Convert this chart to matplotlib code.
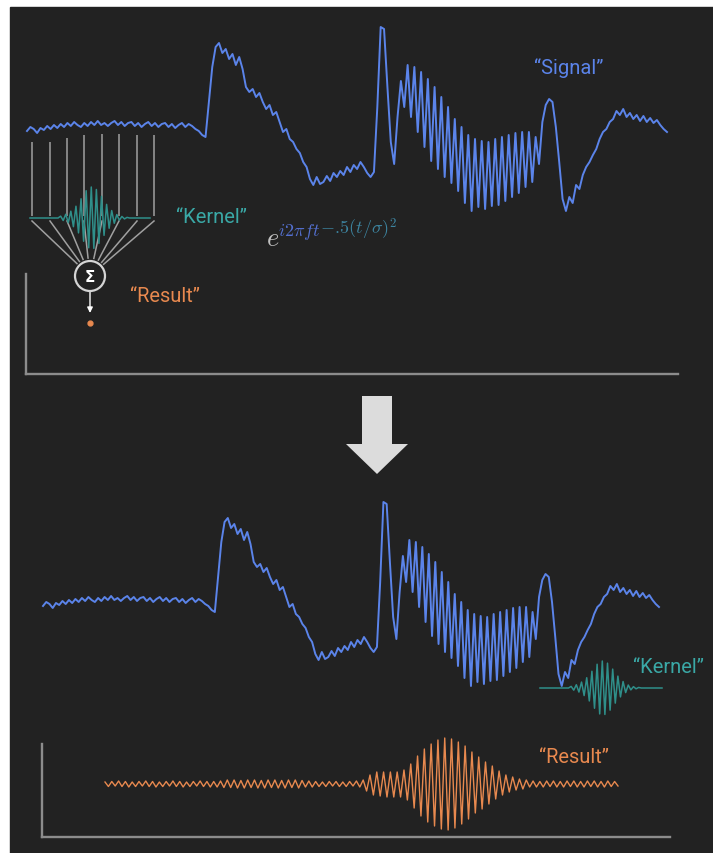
import numpy as np
import matplotlib.pyplot as plt
from matplotlib.patches import Rectangle, Circle

plt.rcParams['mathtext.fontset'] = 'cm'

# Signal amplitude (px above baseline), sampled evenly along the trace
signal = [-4, 0, -2, -6, -1, -3, 1, -2, 2, -1, 3,
          0, 4, 1, 5, 2, 0, 4, 1, 5, 2,
          6, 2, 4, 1, 4, 6, 2, 5, 1, 4,
          5, 1, 4, 0, 3, 5, 1, 4, 0, 3,
          4, 0, 3, -1, 2, 4, 0, 3, 1, -2,
          -4, -8, -10,
          25, 60, 80, 84, 74, 78, 68, 73, 62, 70, 58,
          40, 35, 38, 30, 34, 25, 18, 22, 12, 15, 5,
          -5, -2, -12, -15, -22, -26, -35, -40, -52, -58,
          -50, -57, -55, -49, -54, -46, -50, -44, -48, -40, -45, -38, -42,
          -35, -40, -46, -50, -45,
          20, 100, 98, 40, -15, -37, 10,
          46, 20, 62, 10, 60, -5, 55, -20, 48, -34, 40, -42, 30, -50, 20,
          -56, 8, -64, 0, -76, -8, -84, -12, -80, -14, -82, -15, -79, -12,
          -78, -10, -74, -8, -70, -6, -66, -5, -60, -5, -55, -10, -37,
          5, 22, 28, 25, 0, -35, -72, -84, -70, -76, -58, -62, -48, -40,
          -35, -28, -22, -12,
          -5, -2, 5, 8, 16, 12, 18, 10, 14, 8, 12, 6, 11, 5, 9, 4, 7, 2, -2, -5]

# Kernel (normalised real part of the wavelet)
kernel = [0] * 12 + [0.06, -0.08, 0.12, -0.15, 0.22, -0.28, 0.38, -0.48, 0.62,
                     -0.75, 0.88, -0.96, 1.0, -0.98, 0.92, -0.82, 0.7, -0.56,
                     0.44, -0.33, 0.24, -0.17, 0.11, -0.07, 0.05, -0.03, 0.02] + [0] * 9

# Convolution result (px amplitude)
result = [2, -2.5, 2.5, -2, 3, -2.5, 2.5, -3, 2, -2.5, 2.5, -2, 3, -2.5, 2.5, -3,
          2, -2.5, 2.5, -2, 3, -2.5, 2.5, -3, 2, -2.5, 2.5, -2, 3, -2.5, 2.5, -3,
          2.5, -3,
          3, -3.5, 4, -3.5, 4, -4, 3.5, -4, 4, -3.5, 4, -4, 3.5, -4, 4, -3.5,
          4, -4, 3.5, -4, 4, -3.5, 4, -4, 3.5, -3, 3, -3, 2.5,
          -2.5, 2, -2.5, 2.5, -2, 2.5, -2.5, 2, -2.5, 2.5, -2, 3, -3,
          4, -7, 9, -11, 12,
          -12, 12, -13, 12, -13, 12, -13, 14, -16, 20,
          -24, 28, -32, 35, -38,
          40, -42, 44, -45, 46, -46, 45, -44,
          42, -40, 38, -35, 32, -29, 27,
          -25, 22, -20, 18, -15, 13, -11,
          9, -8, 7, -6, 5, -5, 4,
          -3, 3, -3, 2.5, -3, 3, -2.5, 3, -3, 2.5, -3, 3, -2.5, 3, -3, 2.5,
          -3, 3, -2.5, 3, -3, 2.5, -3, 3, -2.5, 2.5, -2]

BG = '#222222'
BLUE = '#5b84ea'
TEAL = '#2f8f8a'
TEAL_TXT = '#3aa8a6'
ORANGE = '#e8894f'
GREY = '#8c8c8c'
W, H = 713, 854

fig = plt.figure(figsize=(W / 100, H / 100), dpi=100, facecolor='white')
fig.patches.append(Rectangle((10 / W, 0), (W - 10) / W, (H - 8) / H,
                             transform=fig.transFigure, color=BG, zorder=-10))


def make_ax(x0, x1, y0, y1, spine_top):
    ax = fig.add_axes([x0 / W, 1 - y1 / H, (x1 - x0) / W, (y1 - y0) / H])
    ax.set_xlim(x0, x1)
    ax.set_ylim(y1, y0)
    ax.set_facecolor('none')
    for s in ['top', 'right']:
        ax.spines[s].set_visible(False)
    for s in ['left', 'bottom']:
        ax.spines[s].set_color(GREY)
        ax.spines[s].set_linewidth(1.7)
    ax.spines['left'].set_bounds(spine_top, y1)
    ax.set_xticks([])
    ax.set_yticks([])
    return ax


def trace(ax, vals, x_start, x_end, base, scale, **kw):
    vals = np.asarray(vals, dtype=float)
    x = np.linspace(x_start, x_end, len(vals))
    ax.plot(x, base - scale * vals, clip_on=False, **kw)


txt = dict(family='Roboto', fontsize=14.5)

# ---- top panel ----
ax1 = make_ax(26, 678, 0, 375, 275)
trace(ax1, signal, 27, 667, 128, 1.0, color=BLUE, lw=1.4, zorder=3)

# fan of sample lines into the sum node
fan_x = [32, 50, 67, 84, 102, 119, 137, 154]
fan_top = [143, 143, 139, 136, 135, 135, 136, 136]
cx, cy, r = 90, 277, 15
ax1.vlines(fan_x, fan_top, 217, color='#a0a0a0', lw=1.1, zorder=2)
for fx in fan_x:
    dx, dy = fx - cx, 222 - cy
    d = np.hypot(dx, dy)
    ax1.plot([fx, cx + dx / d * (r + 3)], [222, cy + dy / d * (r + 3)],
             color='#a0a0a0', lw=1.1, zorder=2, clip_on=False)
trace(ax1, kernel, 30, 150, 219, 31, color=TEAL, lw=1.1, zorder=4)
ax1.add_patch(Circle((cx, cy), r, facecolor=BG, edgecolor='#d5d5d5', lw=1.6, zorder=5))
ax1.text(cx, cy + 1, 'Σ', family='DejaVu Sans', fontweight='bold', color='white',
         fontsize=11, ha='center', va='center', zorder=6)
ax1.annotate('', xy=(cx, 314), xytext=(cx, cy + r + 1),
             arrowprops=dict(arrowstyle='-|>', color='white', lw=1.0,
                             mutation_scale=8, shrinkA=0, shrinkB=0))
ax1.plot(cx, 324, 'o', ms=3.5, color=ORANGE)

ax1.text(534, 68, '“Signal”', color=BLUE, ha='left', va='center', **txt)
ax1.text(176, 218, '“Kernel”', color=TEAL_TXT, ha='left', va='center', **txt)
ax1.text(130, 297, '“Result”', color=ORANGE, ha='left', va='center', **txt)

# wavelet formula: grey base, blue/teal exponent
ax1.text(266, 246, r'$e$', color='#c0c0c0', fontsize=19, ha='left', va='baseline')
p1 = ax1.text(278, 236, r'$i2\pi ft$', color='#5470d0', fontsize=13,
              ha='left', va='baseline')
ax1.annotate(r'$-.\!5(t/\sigma)^2$', xy=(1.0, 0.0), xycoords=p1, color='#3d84a0',
             fontsize=13, ha='left', va='bottom')

# ---- bottom panel ----
ax2 = make_ax(42, 670, 380, 838, 745)
ax2.arrow(377, 397, 0, 78, width=30, head_width=62, head_length=30,
          length_includes_head=True, color='#dcdcdc', lw=0)
trace(ax2, signal, 43, 659, 603, 1.0, color=BLUE, lw=1.4, zorder=3)
trace(ax2, kernel, 540, 662, 689, 27, color=TEAL, lw=1.1, zorder=4)
trace(ax2, result, 105, 618, 785, 1.0, color=ORANGE, lw=1.0, zorder=3)
ax2.text(633, 668, '“Kernel”', color=TEAL_TXT, ha='left', va='center', **txt)
ax2.text(539, 758, '“Result”', color=ORANGE, ha='left', va='center', **txt)

fig.savefig('out.png', dpi=100, facecolor='white')
